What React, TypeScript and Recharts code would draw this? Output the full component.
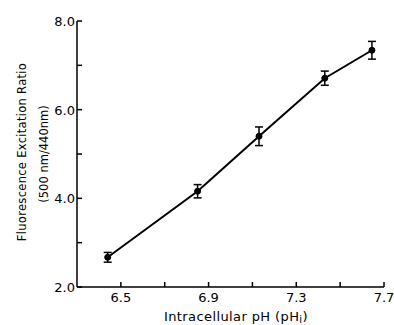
import { LineChart, Line, XAxis, YAxis, ErrorBar, Label } from "recharts";

const phValues = [6.44, 6.85, 7.13, 7.43, 7.645];
const ratios = [2.67, 4.16, 5.4, 6.71, 7.34];
const errors = [0.11, 0.15, 0.21, 0.16, 0.2];

const xTicks = [6.5, 6.7, 6.9, 7.1, 7.3, 7.5, 7.7];
const xLabels = [6.5, 6.9, 7.3, 7.7];
const yTicks = [2, 3, 4, 5, 6, 7, 8];
const yLabels = [2, 4, 6, 8];

const data = phValues.map((ph, i) => ({ ph, ratio: ratios[i], err: errors[i] }));

const FONT = "'DejaVu Sans', sans-serif";

// tick marks point inward, labels only on every other tick
function XTick(props: any) {
  const { x, y, payload } = props;
  const v = payload.value;
  const show = xLabels.some((l) => Math.abs(l - v) < 1e-6);
  return (
    <g>
      <path d={`M${x},${y}V${y - 5}`} stroke="#000" strokeWidth={1.5} fill="none" />
      {show && (
        <text x={x} y={y + 15} textAnchor="middle" fontSize={13} fontFamily={FONT} fill="#000">
          {v.toFixed(1)}
        </text>
      )}
    </g>
  );
}

function YTick(props: any) {
  const { x, y, payload } = props;
  const v = payload.value;
  const show = yLabels.some((l) => Math.abs(l - v) < 1e-6);
  return (
    <g>
      <path d={`M${x},${y}H${x + 5}`} stroke="#000" strokeWidth={1.5} fill="none" />
      {show && (
        <text x={x - 2} y={y + 5} textAnchor="end" fontSize={13} fontFamily={FONT} fill="#000">
          {v.toFixed(1)}
        </text>
      )}
    </g>
  );
}

export default function App() {
  return (
    <div style={{ position: "absolute", left: 0, top: 0, width: 394, height: 325, background: "#fff" }}>
      <LineChart
        width={394}
        height={325}
        data={data}
        margin={{ top: 21, right: 10, bottom: 0, left: 0 }}
      >
        <XAxis
          dataKey="ph"
          type="number"
          domain={[6.3, 7.7]}
          ticks={xTicks}
          tickSize={0}
          tickMargin={0}
          tickLine={false}
          tick={(p: any) => <XTick {...p} />}
          stroke="#000"
          strokeWidth={1.5}
          height={38}
        >
          <Label
            content={() => (
              <text x={236} y={321} textAnchor="middle" fontSize={13} letterSpacing={0.4} fontFamily={FONT} fill="#000">
                Intracellular pH (pH
                <tspan fontSize={10} dy={2}>i</tspan>
                <tspan dy={-2}>)</tspan>
              </text>
            )}
          />
        </XAxis>
        <YAxis
          type="number"
          domain={[2, 8]}
          ticks={yTicks}
          tickSize={0}
          tickMargin={0}
          tickLine={false}
          tick={(p: any) => <YTick {...p} />}
          stroke="#000"
          strokeWidth={1.5}
          width={77}
        >
          <Label
            content={() => (
              <g fontFamily={FONT} fontSize={11.5} fill="#000">
                <text x={26} y={152} textAnchor="middle" letterSpacing={0.3} transform="rotate(-90 26 152)">
                  Fluorescence Excitation Ratio
                </text>
                <text x={48} y={154} textAnchor="middle" transform="rotate(-90 48 154)">
                  (500 nm/440nm)
                </text>
              </g>
            )}
          />
        </YAxis>
        <Line
          type="linear"
          dataKey="ratio"
          stroke="#000"
          strokeWidth={2}
          dot={{ r: 3, fill: "#000", stroke: "#000", strokeWidth: 1 }}
          isAnimationActive={false}
        >
          <ErrorBar dataKey="err" width={4} stroke="#000" strokeWidth={1.5} direction="y" />
        </Line>
      </LineChart>
    </div>
  );
}
